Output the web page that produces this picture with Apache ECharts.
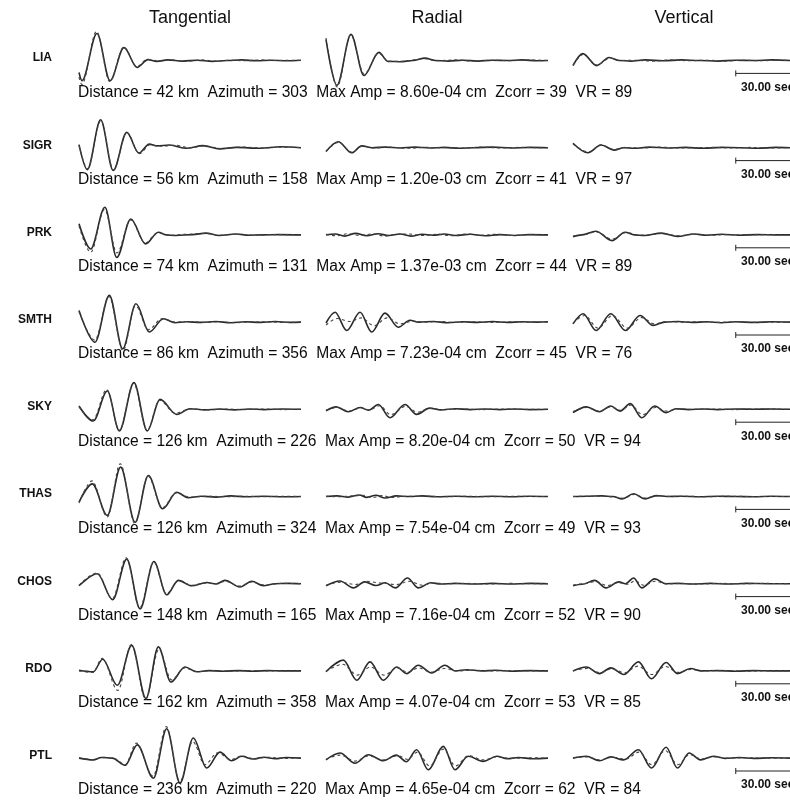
<!DOCTYPE html>
<html>
<head>
<meta charset="utf-8">
<script src="https://cdn.jsdelivr.net/npm/echarts@6/dist/echarts.min.js"></script>
<style>
  html, body { margin: 0; padding: 0; background: #fff; }
  #chart { width: 790px; height: 801px; }
</style>
</head>
<body>
<div id="chart"></div>
<script>
// 台站信息
const stations = ['LIA', 'SIGR', 'PRK', 'SMTH', 'SKY', 'THAS', 'CHOS', 'RDO', 'PTL'];
const distances = [42, 56, 74, 86, 126, 126, 148, 162, 236];
const azimuths = [303, 158, 131, 356, 226, 324, 165, 358, 220];
const maxAmps = ['8.60e-04', '1.20e-03', '1.37e-03', '7.23e-04', '8.20e-04', '7.54e-04', '7.16e-04', '4.07e-04', '4.65e-04'];
const zcorrs = [39, 41, 44, 45, 50, 49, 52, 53, 62];
const vrs = [89, 97, 89, 76, 94, 93, 90, 85, 84];
const components = ['Tangential', 'Radial', 'Vertical'];
const scaleSec = 30;

// 波形: [时间(s), 归一化振幅]，观测 = 实线，合成 = 虚线
const tanObs = [
  [[0,-0.4],[1.6,-0.67],[9.7,0.9],[16.8,-0.67],[24.3,0.43],[31.4,-0.23],[37.3,0.03],[42,-0.03],[48,0.02],[56,-0.02],[64,0.01],[72,-0.03],[80,0],[88,0.02],[96,-0.01],[104,0.01],[112,-0.01],[120,0.01]],
  [[0,0.1],[4.5,-0.73],[11.7,0.93],[18.5,-0.76],[25.8,0.51],[32.4,-0.18],[38,0.12],[42,0.06],[49,0.09],[58,-0.02],[67,0.07],[76,-0.04],[85,0.01],[98,-0.02],[109,0.03],[120,0]],
  [[0,0.37],[6.3,-0.47],[14,0.92],[20.4,-0.75],[28,0.53],[36,-0.3],[42.9,0.09],[47,0],[52.4,-0.02],[61.4,0.01],[68.6,0.06],[75.8,-0.02],[84.8,0.03],[92,-0.01],[99.2,0],[108,0.01],[120,0]],
  [[0,0.39],[8.6,-0.67],[16.4,0.89],[23.6,-0.89],[30.8,0.61],[38,-0.33],[45.6,0.11],[51.9,-0.02],[58,0.01],[66,-0.01],[74,0.02],[82,-0.02],[90,0.01],[98,-0.01],[106,0.02],[114,-0.01],[120,0]],
  [[0,0.11],[7.7,-0.39],[15.3,0.61],[21.8,-0.72],[29.7,0.89],[36.9,-0.72],[43.8,0.33],[52.8,-0.17],[60,0.02],[68,-0.02],[76,0.01],[84,-0.02],[92,0.01],[100,-0.01],[110,0.01],[120,0]],
  [[0,-0.19],[7.2,0.42],[15.3,-0.63],[22.5,0.98],[30.3,-0.86],[37.5,0.7],[45.2,-0.41],[52.8,0.14],[59,-0.04],[66,0.01],[74,-0.02],[82,0.02],[90,-0.01],[100,0.01],[110,-0.01],[120,0]],
  [[0,-0.07],[9.9,0.33],[18.2,-0.53],[25.8,0.82],[33,-0.84],[40.5,0.74],[47.4,-0.37],[53.7,0.11],[60.9,-0.07],[69,0.04],[74,-0.01],[78.9,0.11],[87,-0.11],[93.4,0.08],[99.6,-0.07],[106,0],[113,0.01],[120,0]],
  [[0,0.02],[7.7,-0.03],[12.8,0.39],[20.7,-0.48],[28.5,0.85],[36.2,-0.92],[42.9,0.8],[49.7,-0.37],[57.3,0.13],[63.6,-0.03],[70,0.01],[78,-0.01],[86,0.01],[94,-0.01],[102,0.01],[110,0],[120,0]],
  [[0,0],[7.7,-0.06],[12,0.02],[18,0],[24.9,-0.24],[31.5,0.44],[40.2,-0.67],[47.4,0.98],[54.6,-0.83],[61.8,0.67],[69,-0.33],[76.2,0.2],[82.5,-0.09],[87.9,0.06],[94,-0.03],[100,0.03],[106,-0.02],[112,0.02],[120,0]]
];
const tanSyn = [
  [[0,-0.55],[1.5,-0.8],[9.5,0.97],[16.6,-0.7],[24.2,0.45],[31.2,-0.2],[37,0.04],[43,-0.02],[50,0.02],[58,-0.03],[66,0.02],[74,-0.02],[82,0.01],[90,-0.01],[98,0.02],[106,0],[114,0.01],[120,0]],
  [[0,0.08],[4.6,-0.7],[11.8,0.9],[18.6,-0.74],[25.9,0.5],[32.6,-0.2],[38.5,0.1],[45,0.05],[52,0.08],[60,0],[68,0.06],[77,-0.03],[88,0.02],[100,-0.01],[110,0.02],[120,0]],
  [[0,0.3],[6.3,-0.58],[13.8,0.85],[20.5,-0.6],[27.9,0.5],[35.8,-0.27],[42.5,0.07],[50,-0.01],[58,0.02],[68,0.05],[76,-0.01],[85,0.02],[95,-0.01],[105,0.01],[120,0]],
  [[0,0.35],[8.5,-0.6],[16.2,0.85],[23.8,-0.95],[30.5,0.55],[37.5,-0.25],[45,0.12],[52,0],[60,0.02],[68,-0.01],[76,0.01],[84,-0.02],[92,0],[100,0.01],[110,-0.01],[120,0]],
  [[0,0.08],[7.5,-0.35],[15,0.66],[21.8,-0.7],[29.5,0.86],[36.8,-0.7],[43.5,0.3],[52,-0.13],[60,0.01],[70,-0.02],[80,0.01],[90,-0.01],[100,0.01],[110,-0.01],[120,0]],
  [[0,-0.22],[7,0.52],[15.3,-0.68],[22.3,1.09],[30.2,-0.9],[37.3,0.68],[45,-0.38],[52.5,0.12],[60,-0.02],[70,0.01],[80,-0.01],[90,0.01],[100,-0.01],[110,0.01],[120,0]],
  [[0,-0.05],[9.8,0.36],[18,-0.5],[25.5,0.86],[32.8,-0.8],[40.4,0.72],[47.2,-0.33],[54,0.1],[61,-0.05],[68,0.02],[74,0],[79,0.08],[87,-0.08],[93.5,0.06],[100,-0.04],[110,0.01],[120,0]],
  [[0,0],[7.5,-0.05],[12.5,0.42],[21,-0.65],[28.3,0.88],[36,-0.95],[43.2,0.72],[50,-0.3],[57,0.1],[64,-0.02],[72,0.01],[82,-0.01],[92,0.01],[104,0],[120,0]],
  [[0,0.01],[8,-0.05],[13,0.03],[19,-0.02],[25,-0.22],[31,0.5],[40,-0.6],[47.2,1.05],[54.5,-0.78],[61.5,0.55],[68,-0.22],[75,0.18],[82,-0.05],[88,0.07],[95,-0.02],[102,0.03],[110,-0.01],[120,0]]
];
const radObs = [
  [[0,0.7],[5.9,-0.83],[13.5,0.87],[20.5,-0.5],[28.6,0.27],[33.5,-0.03],[40,-0.04],[47,0],[53.5,0.08],[59,0],[66,-0.02],[74,0.01],[82,-0.02],[90,0.01],[98,0],[106,0.02],[114,-0.01],[120,0]],
  [[0,-0.13],[6.6,0.2],[13.9,-0.17],[19.3,0.06],[25,0],[32,0.02],[40,-0.01],[48,0.02],[56,-0.01],[64,0.01],[72,-0.02],[80,0],[90,0.02],[100,-0.01],[110,0.01],[120,0]],
  [[0,0],[5,0.03],[10,-0.04],[16,0.05],[22,-0.03],[28,0.04],[34,-0.02],[40,0.03],[46,-0.04],[52,0.02],[58,-0.01],[64,0.03],[70,-0.02],[78,0.02],[86,-0.03],[94,0.01],[102,-0.02],[110,0.01],[120,0]],
  [[0,-0.03],[4.9,0.33],[11.2,-0.28],[18.4,0.33],[24.7,-0.33],[31.9,0.3],[39.1,-0.17],[45.4,0.06],[50,0],[58,0.02],[66,-0.02],[74,0.01],[82,-0.01],[90,0.02],[98,-0.01],[106,0.01],[114,0],[120,0.01]],
  [[0,-0.05],[5.5,0.08],[12,-0.08],[18.5,0.06],[23,-0.03],[28.3,0.16],[34.6,-0.28],[42.7,0.16],[49,-0.17],[56,0.04],[62,-0.02],[70,0.02],[78,-0.01],[86,0.01],[94,-0.01],[102,0.01],[110,-0.01],[120,0]],
  [[0,0],[6,0.02],[12,-0.02],[18,0.05],[22,-0.03],[27,0.04],[32,-0.05],[38,0.02],[45,0],[52,0.02],[60,-0.01],[70,0.01],[80,-0.01],[90,0.01],[100,-0.01],[110,0.01],[120,0]],
  [[0,-0.07],[7.5,0.09],[14.8,-0.14],[21,0.06],[27,-0.06],[32,0.03],[37.5,-0.14],[44,0.19],[50,-0.14],[56.5,0.03],[62,-0.01],[70,0.01],[80,-0.01],[90,0.01],[100,-0.01],[110,0.01],[120,0]],
  [[0,-0.03],[9.4,0.36],[16.6,-0.31],[23.8,0.3],[31,-0.31],[38.2,0.13],[43.6,-0.09],[49.9,0.19],[57.1,-0.07],[64.3,0.19],[70,0],[76,0.04],[84,0],[92,0.02],[100,-0.01],[110,0.01],[120,0]],
  [[0,-0.06],[7.6,0.17],[15.7,-0.17],[22.9,0.11],[31,-0.09],[38,0.1],[43.5,-0.12],[49,0.28],[55.3,-0.39],[63.4,0.39],[69.7,-0.39],[76.9,0.06],[85,-0.11],[92.3,0.06],[98,-0.02],[104,0.02],[112,-0.02],[120,0]]
];
const radSyn = [
  [[0,0.75],[6,-0.88],[13.4,0.85],[20.6,-0.45],[28.5,0.24],[33.8,-0.03],[41,-0.03],[53,0.06],[60,-0.01],[70,0.02],[80,-0.02],[90,0.01],[100,-0.01],[110,0.02],[120,0]],
  [[0,-0.12],[6.8,0.18],[14,-0.15],[19.6,0.05],[26,-0.01],[34,0.02],[44,-0.02],[54,0.01],[64,0],[74,-0.01],[84,0.02],[94,-0.01],[104,0.01],[114,0],[120,0]],
  [[0,0.02],[6,-0.03],[12,0.04],[18,-0.02],[25,0.03],[32,-0.04],[38,0.02],[45,0.03],[52,-0.02],[60,0.02],[68,-0.03],[76,0.03],[84,-0.01],[92,0.02],[100,-0.02],[110,0.01],[120,0]],
  [[0,-0.1],[6,0.12],[13,0.02],[19,0.14],[26,-0.12],[33,0.14],[40,-0.06],[47,0.03],[54,0],[62,0.02],[70,-0.01],[80,0.01],[90,-0.01],[100,0.01],[110,0],[120,0]],
  [[0,-0.03],[6,0.06],[12.5,-0.06],[19,0.05],[23.5,-0.02],[29,0.12],[35,-0.18],[43,0.1],[49.5,-0.1],[56,0.03],[64,-0.01],[74,0.01],[84,-0.01],[94,0.01],[104,0],[120,0]],
  [[0,0.01],[7,-0.01],[14,0.02],[20,0.04],[25,-0.04],[30,0.03],[36,-0.03],[44,0.01],[54,0.01],[64,-0.01],[76,0.01],[88,-0.01],[100,0.01],[110,0],[120,0]],
  [[0,-0.05],[8,0.05],[16,-0.03],[22,0.08],[30,0.02],[38,-0.03],[45,0.08],[52,-0.05],[58,0.02],[66,0],[76,0.01],[88,-0.01],[100,0.01],[110,0],[120,0]],
  [[0,-0.01],[9,0.22],[17,-0.14],[24,0.13],[31.5,-0.14],[38.5,0.1],[44,-0.04],[50,0.1],[57,-0.04],[64,0.08],[71,0],[80,0.02],[90,0],[100,0.01],[110,0],[120,0]],
  [[0,-0.04],[7.6,0.1],[15.7,-0.1],[23,0.07],[31,-0.06],[39,0.08],[44,-0.04],[49.5,0.2],[56,-0.26],[63.5,0.3],[70,-0.26],[77,0.08],[85,-0.06],[92,0.04],[100,-0.01],[110,0.01],[120,0]]
];
const verObs = [
  [[0,-0.17],[5.4,0.23],[13,-0.17],[20,0.1],[25.5,0],[32,-0.02],[40,0.02],[50,-0.01],[60,0.02],[70,0],[80,-0.02],[90,0.01],[100,0],[110,0.02],[120,0]],
  [[0,0.15],[8.3,-0.17],[15.5,0.09],[22.7,-0.08],[28,0],[34,-0.02],[42,0.02],[52,-0.01],[62,0.01],[72,-0.02],[82,0.01],[92,0],[102,-0.02],[112,0.01],[120,0]],
  [[0,-0.06],[5,0],[12.6,0.12],[21.6,-0.19],[28.8,0.09],[34,0],[39.5,-0.02],[48.8,0.06],[57.8,-0.05],[66.9,0.03],[74,-0.01],[82,0.02],[92,-0.01],[102,0.01],[112,0],[120,0]],
  [[0,-0.06],[5.6,0.28],[12.8,-0.28],[20.9,0.28],[29,-0.28],[37.1,0.22],[44.3,-0.11],[50.6,0],[58,0.02],[66,-0.01],[74,0.01],[82,-0.02],[90,0.01],[100,-0.01],[110,0.01],[120,0]],
  [[0,-0.11],[7.4,0.08],[14.6,-0.08],[20.9,0.11],[26,-0.06],[31.7,0.19],[38,-0.28],[45.2,0.11],[51.5,-0.11],[57,0.02],[64,-0.01],[72,0.01],[80,-0.01],[90,0.01],[100,0],[110,0.01],[120,0]],
  [[0,0],[8,0.01],[16,0.02],[22,0],[27.2,-0.08],[33.5,0.09],[39.8,-0.08],[46,0.03],[52,0],[60,0.01],[70,-0.01],[80,0.01],[90,0],[100,-0.01],[110,0.01],[120,0]],
  [[0,-0.07],[5,-0.02],[12,0.11],[18.2,-0.14],[25.4,0.06],[29,0],[33.5,0.19],[38,-0.14],[45.2,0.16],[51.5,0],[58,0.01],[66,-0.01],[76,0.01],[86,-0.01],[96,0.01],[108,0],[120,0]],
  [[0,0],[7.4,0.13],[14.6,-0.09],[20.9,0.1],[28.1,-0.12],[36.2,0.3],[43.4,-0.26],[51.5,0.28],[57.8,-0.09],[65,0.08],[71,0],[80,0.01],[90,-0.01],[100,0.01],[110,0],[120,0]],
  [[0,0],[7.4,0.06],[14.6,-0.09],[21,0.04],[28,-0.06],[36.2,0.28],[43.4,-0.33],[51.5,0.36],[57.8,-0.33],[64.2,0.17],[70.5,-0.06],[77.7,0.06],[84,-0.01],[92,0.02],[100,-0.01],[110,0.01],[120,0]]
];
const verSyn = [
  [[0,-0.15],[5.6,0.2],[13.2,-0.15],[20.5,0.08],[26,0],[34,0.01],[44,-0.02],[54,0.02],[64,-0.01],[74,0.01],[84,-0.02],[94,0.01],[104,-0.01],[114,0.01],[120,0]],
  [[0,0.12],[8.5,-0.14],[15.6,0.1],[22.5,-0.06],[29,0.01],[38,-0.01],[48,0.02],[58,-0.01],[68,0],[78,0.01],[88,-0.01],[98,0.01],[108,-0.01],[120,0]],
  [[0,-0.04],[6,0.01],[13,0.1],[21.5,-0.14],[29.5,0.08],[36,-0.01],[42,0],[49,0.05],[58,-0.03],[67,0.02],[76,-0.01],[86,0.01],[96,0],[108,0.01],[120,0]],
  [[0,-0.04],[6.5,0.22],[13.8,-0.2],[21.8,0.22],[30,-0.2],[38,0.15],[45,-0.06],[52,0.02],[60,0],[70,0.01],[80,-0.01],[90,0.01],[100,-0.01],[110,0],[120,0]],
  [[0,-0.08],[7.5,0.06],[14.5,-0.06],[21,0.08],[26.5,-0.03],[32,0.14],[38.5,-0.18],[45.5,0.06],[52,-0.06],[58,0.01],[68,0],[78,0.01],[90,-0.01],[100,0.01],[120,0]],
  [[0,0],[10,0.01],[18,0.01],[23,-0.02],[28,-0.06],[34,0.07],[40,-0.05],[46,0.02],[54,0],[64,0.01],[74,-0.01],[86,0.01],[98,0],[110,0],[120,0]],
  [[0,-0.05],[6,0],[12.5,0.07],[19,-0.06],[25,0.04],[30,-0.02],[34.5,0.1],[39,-0.05],[45.5,0.08],[52,-0.01],[60,0.01],[70,-0.01],[82,0.01],[94,0],[106,0.01],[120,0]],
  [[0,0],[7.6,0.08],[15,-0.06],[21.5,0.07],[28.5,-0.06],[36,0.16],[43.5,-0.12],[51,0.15],[58,-0.05],[65,0.05],[72,0],[84,0.01],[96,-0.01],[108,0],[120,0]],
  [[0,0.01],[7.5,0.04],[15,-0.06],[22,0.03],[29,-0.04],[36.5,0.2],[43.5,-0.22],[51,0.25],[58,-0.22],[64.5,0.12],[71,-0.03],[78,0.04],[86,0],[96,0.01],[108,0],[120,0]]
];

// 版面参数
const colLeft = [79, 326, 573];
const traceWidth = 222;
const traceSec = 120;
const firstBase = 60.5;
const rowStep = 87.2;
const pxPerUnit = 30;
const yLim = 1.3;
const barLevel = -0.43;

const obsSets = [tanObs, radObs, verObs];
const synSets = [tanSyn, radSyn, verSyn];

const grids = [], xAxes = [], yAxes = [], series = [], texts = [];

components.forEach(function (name, c) {
    texts.push({
        type: 'text', x: colLeft[c] + traceWidth / 2, y: 18,
        style: { text: name, fontSize: 18, fontFamily: 'Liberation Sans', fill: '#111', align: 'center', verticalAlign: 'middle' }
    });
});

stations.forEach(function (st, r) {
    const base = firstBase + r * rowStep;
    for (let c = 0; c < 3; c++) {
        const idx = grids.length;
        grids.push({ left: colLeft[c], top: base - yLim * pxPerUnit, width: traceWidth, height: 2 * yLim * pxPerUnit });
        xAxes.push({ type: 'value', gridIndex: idx, min: 0, max: traceSec, show: false });
        yAxes.push({ type: 'value', gridIndex: idx, min: -yLim, max: yLim, show: false });
        series.push({
            type: 'line', xAxisIndex: idx, yAxisIndex: idx, data: obsSets[c][r],
            smooth: 0.34, smoothMonotone: 'x', showSymbol: false, silent: true, clip: false, z: 2,
            lineStyle: { color: '#2a2a2a', width: 1.6 }
        });
        series.push({
            type: 'line', xAxisIndex: idx, yAxisIndex: idx, data: synSets[c][r],
            smooth: 0.34, smoothMonotone: 'x', showSymbol: false, silent: true, clip: false, z: 3,
            lineStyle: { color: '#444', width: 1.1, type: [3, 3] }
        });
        if (c === 2) {
            // 30 秒比例尺
            series.push({
                type: 'line', xAxisIndex: idx, yAxisIndex: idx, silent: true, clip: false, showSymbol: false,
                data: [[traceSec - scaleSec, barLevel], [traceSec, barLevel]],
                lineStyle: { color: '#222', width: 1 }
            });
            series.push({
                type: 'line', xAxisIndex: idx, yAxisIndex: idx, silent: true, clip: false, showSymbol: false,
                data: [[traceSec - scaleSec, barLevel + 0.1], [traceSec - scaleSec, barLevel - 0.1]],
                lineStyle: { color: '#222', width: 1 }
            });
        }
    }

    texts.push({
        type: 'text', x: 52, y: base - 2.5,
        style: { text: st, fontSize: 12, fontWeight: 'bold', fontFamily: 'Liberation Sans', fill: '#111', align: 'right', verticalAlign: 'middle' }
    });
    texts.push({
        type: 'text', x: 78, y: base + 32,
        style: {
            text: 'Distance = ' + distances[r] + ' km  Azimuth = ' + azimuths[r] + '  Max Amp = ' + maxAmps[r] +
                ' cm  Zcorr = ' + zcorrs[r] + '  VR = ' + vrs[r],
            fontSize: 15.6, fontFamily: 'Liberation Sans', fill: '#0a0a0a', align: 'left', verticalAlign: 'middle'
        }
    });
    texts.push({
        type: 'text', x: 741, y: base + 27,
        style: { text: scaleSec.toFixed(2) + ' sec', fontSize: 12, fontWeight: 'bold', fontFamily: 'Liberation Sans', fill: '#111', align: 'left', verticalAlign: 'middle' }
    });
});

const chart = echarts.init(document.getElementById('chart'), null, { renderer: 'canvas' });
chart.setOption({
    animation: false,
    backgroundColor: '#fff',
    grid: grids,
    xAxis: xAxes,
    yAxis: yAxes,
    series: series,
    graphic: texts
});
window.addEventListener('resize', function () { chart.resize(); });
</script>
</body>
</html>
